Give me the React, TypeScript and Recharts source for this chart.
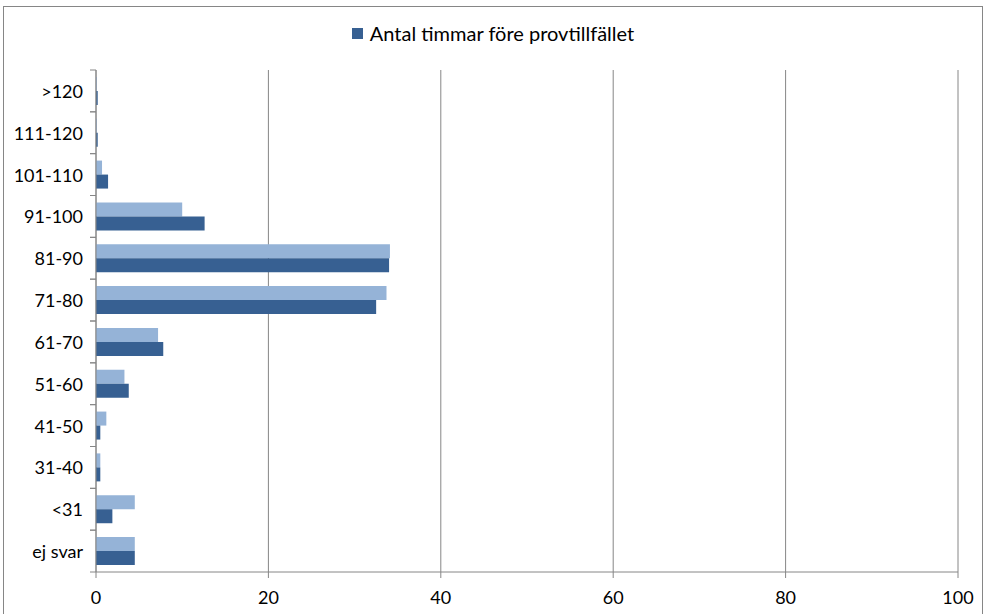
import React from "react";
import {
  BarChart,
  Bar,
  XAxis,
  YAxis,
  CartesianGrid,
} from "recharts";

// kategorier uppifrån och ner
const categories = [
  ">120",
  "111-120",
  "101-110",
  "91-100",
  "81-90",
  "71-80",
  "61-70",
  "51-60",
  "41-50",
  "31-40",
  "<31",
  "ej svar",
];

// ljus serie (utan legend) och mörk serie
const lightValues = [0.1, 0.1, 0.7, 10.0, 34.1, 33.7, 7.2, 3.3, 1.2, 0.5, 4.5, 4.5];
const darkValues = [0.2, 0.2, 1.4, 12.6, 34.0, 32.5, 7.8, 3.8, 0.5, 0.5, 1.9, 4.5];

const xTicks = [0, 20, 40, 60, 80, 100];

const LIGHT = "#95B3D7";
const DARK = "#376092";
const GRID = "#868686";
const FONT = "Lato, 'Open Sans', sans-serif";

const CHART_W = 978;
const CHART_H = 620;
const MARGIN = { top: 63, right: 24, left: 0, bottom: 0 };
const X_AXIS_H = 55;
const Y_AXIS_W = 92;

const data = categories.map((name, i) => ({
  name,
  light: lightValues[i],
  dark: darkValues[i],
}));

const band =
  (CHART_H - MARGIN.top - MARGIN.bottom - X_AXIS_H) / categories.length;

const CategoryTick = (props: any) => {
  const { x, y, payload } = props;
  const x0 = x + 7;
  return (
    <g>
      <line x1={x0} x2={x0 + 6} y1={y - band / 2} y2={y - band / 2} stroke={GRID} />
      <line x1={x0} x2={x0 + 6} y1={y + band / 2} y2={y + band / 2} stroke={GRID} />
      <text
        x={x}
        y={y}
        textAnchor="end"
        dominantBaseline="central"
        fontFamily={FONT}
        fontSize={18}
        fill="#000"
      >
        {payload.value}
      </text>
    </g>
  );
};

export default function App() {
  return (
    <div
      style={{
        position: "absolute",
        left: 3,
        top: 6,
        width: CHART_W,
        height: CHART_H,
        border: `1px solid ${GRID}`,
        background: "#fff",
      }}
    >
      {/* legenden visar bara den mörka serien */}
      <div
        style={{
          position: "absolute",
          top: 14,
          left: 0,
          width: CHART_W,
          display: "flex",
          justifyContent: "center",
          alignItems: "center",
          fontFamily: FONT,
          fontSize: 20,
          lineHeight: "24px",
          color: "#000",
        }}
      >
        <span
          style={{
            display: "inline-block",
            width: 11,
            height: 11,
            background: DARK,
            marginRight: 7,
          }}
        />
        Antal timmar före provtillfället
      </div>
      <BarChart
        width={CHART_W}
        height={CHART_H}
        data={data}
        layout="vertical"
        margin={MARGIN}
        barCategoryGap="16.5%"
        barGap={0}
      >
        <CartesianGrid horizontal={false} stroke={GRID} strokeWidth={1} />
        <XAxis
          type="number"
          domain={[0, 100]}
          ticks={xTicks}
          interval={0}
          height={X_AXIS_H}
          stroke={GRID}
          tickSize={6}
          tickMargin={13}
          tick={{ fill: "#000", fontFamily: FONT, fontSize: 18 }}
        />
        <YAxis
          type="category"
          dataKey="name"
          width={Y_AXIS_W}
          stroke={GRID}
          tickLine={false}
          tickSize={6}
          tickMargin={7}
          interval={0}
          tick={<CategoryTick />}
        />
        <Bar dataKey="light" fill={LIGHT} isAnimationActive={false} />
        <Bar
          dataKey="dark"
          name="Antal timmar före provtillfället"
          fill={DARK}
          isAnimationActive={false}
        />
      </BarChart>
    </div>
  );
}
